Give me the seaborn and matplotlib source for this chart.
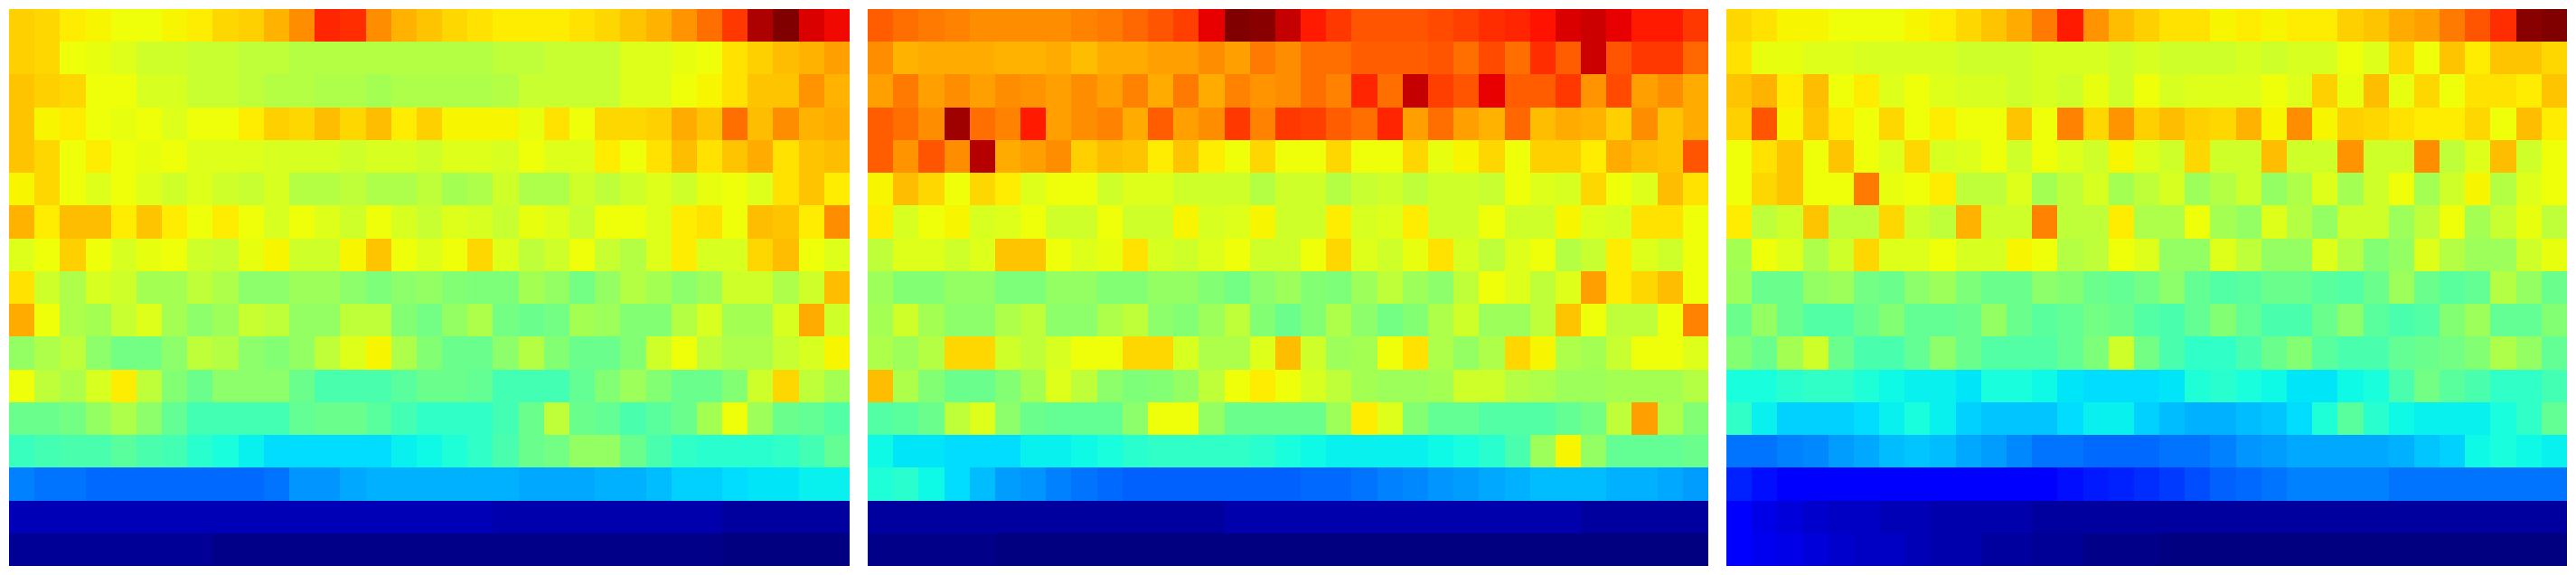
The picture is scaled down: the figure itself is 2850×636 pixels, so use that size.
import numpy as np
import matplotlib
matplotlib.use('Agg')
import matplotlib.pyplot as plt
import seaborn as sns

# values, in percent of the colour range
panel_a = [
    [69,68,66,65,64,64,65,66,68,69,72,76,87,86,76,72,70,68,67,66,66,66,67,68,70,72,75,79,85,96,100,92,90],
    [69,68,64,63,62,60,60,59,59,58,58,57,57,57,57,57,57,57,57,58,58,59,59,59,62,62,63,64,67,69,71,72,74],
    [70,69,68,64,64,61,61,59,59,58,57,57,56,56,55,56,56,56,56,57,59,59,59,59,62,62,64,65,67,70,70,75,72],
    [70,65,66,64,63,64,62,64,64,66,69,68,71,68,71,66,69,65,65,65,63,67,64,68,68,69,73,70,79,71,76,72,73],
    [70,68,64,66,64,63,64,62,62,62,61,61,61,60,61,61,60,62,62,61,64,62,62,66,64,67,71,67,70,73,67,70,71],
    [65,68,64,62,64,62,60,62,60,59,61,57,57,58,56,56,58,55,56,60,56,56,60,58,60,62,60,63,64,62,67,70,66],
    [72,66,71,71,66,70,66,64,66,64,61,64,62,60,64,61,59,62,61,59,63,62,59,64,64,62,66,67,64,71,70,66,76],
    [62,64,69,64,61,63,64,60,59,63,65,60,60,65,70,64,62,64,68,62,58,60,64,59,57,62,66,61,61,68,71,64,62],
    [67,60,56,61,60,55,55,58,56,52,52,54,54,52,50,52,53,51,50,50,55,53,49,53,57,55,52,54,60,60,56,60,71],
    [73,64,56,55,59,62,55,52,54,59,58,53,53,58,58,51,49,53,56,49,48,49,55,54,51,51,57,61,55,55,61,73,60],
    [53,56,58,52,49,49,52,58,57,52,51,53,58,62,65,56,51,48,48,52,57,51,48,48,51,60,64,58,56,56,59,61,65],
    [64,58,56,61,66,58,51,48,52,52,52,48,44,44,44,46,48,48,47,43,43,43,47,51,54,51,48,48,51,60,68,58,55],
    [48,48,49,53,56,52,47,43,43,43,43,47,48,48,46,43,41,41,41,43,48,58,48,47,44,46,48,55,64,54,48,47,45],
    [42,43,44,44,46,44,43,40,38,36,34,34,34,34,34,36,37,39,41,44,48,49,53,53,48,44,41,40,40,40,41,43,47],
    [25,24,24,23,23,23,23,23,23,23,24,27,27,29,30,30,30,30,30,30,29,29,29,30,30,31,33,33,34,35,35,36,36],
    [5,5,5,5,5,5,5,5,5,5,5,5,5,5,5,5,5,5,5,4,4,4,4,4,4,4,4,4,3,3,3,3,3],
    [2,2,2,2,2,2,2,2,1,1,1,1,1,1,1,1,1,1,1,1,1,1,1,1,1,1,1,1,0,0,0,0,0],
]

panel_b = [
    [81,79,78,77,76,76,76,76,77,78,80,82,84,91,100,99,94,88,85,82,82,82,83,84,86,87,89,92,93,91,88,88,85],
    [76,72,73,73,73,72,72,73,71,73,73,74,74,76,74,78,76,79,79,81,81,81,82,79,83,79,86,81,93,82,85,85,80],
    [74,78,74,76,74,76,75,74,76,74,77,73,78,73,77,75,76,79,77,87,79,94,84,82,91,81,81,85,75,83,74,76,73],
    [81,79,76,97,79,77,88,74,76,77,73,81,74,76,85,77,85,84,81,79,87,74,79,74,72,80,71,73,72,69,76,70,73],
    [81,75,82,76,95,73,74,76,69,71,70,66,70,66,64,68,64,64,68,64,64,68,63,65,68,64,69,69,66,73,71,70,82],
    [65,71,68,64,68,66,62,64,64,60,62,62,60,60,60,57,60,60,57,59,60,58,60,60,59,64,62,61,68,64,62,71,67],
    [66,61,64,65,61,62,64,60,60,64,60,60,65,61,62,65,60,60,66,61,62,66,60,60,64,60,60,65,62,61,67,67,64],
    [58,62,62,60,62,70,70,64,62,63,67,61,60,62,64,60,60,64,68,62,60,63,67,61,58,62,64,57,59,66,62,60,64],
    [54,51,51,53,53,50,50,53,53,51,51,53,53,51,49,52,54,51,50,54,58,54,52,58,64,62,58,62,74,66,68,71,64],
    [55,60,55,52,52,56,58,52,52,56,58,52,51,54,58,51,48,51,56,52,49,51,56,60,54,54,58,70,64,58,58,64,77],
    [56,54,57,68,68,60,58,61,64,64,68,68,61,56,56,62,71,60,54,55,64,67,56,53,56,68,65,56,55,59,64,64,62],
    [71,56,51,48,48,51,55,62,58,52,50,51,53,58,64,66,64,61,58,55,54,54,55,60,60,57,56,54,54,55,55,55,57],
    [45,46,48,58,62,52,48,47,47,47,52,64,64,53,48,48,48,48,54,66,62,51,47,47,45,45,45,47,49,58,74,56,51],
    [37,35,35,34,34,34,36,36,37,38,40,41,41,41,41,40,38,37,36,36,36,36,37,38,40,44,54,65,53,47,47,47,48],
    [39,40,37,34,31,28,27,25,24,23,22,22,22,22,22,22,22,23,23,24,25,26,27,28,29,30,31,31,31,30,30,29,28],
    [3,3,3,3,3,3,3,3,3,3,3,3,3,3,4,4,4,4,4,4,4,4,4,4,4,4,4,4,3,3,3,3,3],
    [1,1,1,1,1,0,0,0,0,0,0,0,0,0,0,0,0,0,0,0,0,0,0,0,0,0,0,0,0,0,0,0,0],
]

panel_c = [
    [68,67,65,65,64,64,64,65,66,68,70,73,78,88,75,71,69,67,67,65,66,65,66,66,69,70,73,74,78,82,86,99,100],
    [67,63,63,62,62,61,61,61,61,60,60,60,61,61,61,60,61,60,60,60,61,60,61,61,64,62,68,64,70,66,70,70,68],
    [70,72,66,71,64,66,62,64,62,61,61,60,61,60,63,60,64,61,62,62,62,64,62,69,63,71,63,68,64,67,67,66,70],
    [69,82,65,70,66,64,68,64,66,64,64,70,64,77,68,75,69,71,69,68,72,65,76,65,69,68,67,66,66,68,64,71,66],
    [64,67,70,64,70,64,62,68,61,62,64,60,64,62,60,65,62,60,68,60,60,71,60,60,75,60,60,76,58,62,71,60,64],
    [64,68,70,64,64,78,63,64,66,58,58,62,55,58,61,55,58,61,54,57,60,53,56,62,55,60,64,55,60,65,57,62,64],
    [66,58,60,70,58,58,68,60,58,72,60,60,77,58,58,66,56,56,64,55,53,62,57,53,60,60,54,58,64,55,59,63,58],
    [55,64,62,56,60,68,62,62,64,61,61,65,64,57,58,64,62,53,53,62,58,53,53,62,57,51,53,62,57,54,54,60,63],
    [54,48,48,53,54,49,48,52,54,50,48,48,52,51,48,47,49,52,47,45,46,48,48,46,45,48,54,48,46,47,57,53,48],
    [48,53,48,45,45,48,51,47,47,48,53,48,46,47,49,48,45,44,47,51,47,44,44,48,52,46,44,45,51,54,47,47,51],
    [51,48,55,60,48,44,44,47,52,48,45,45,45,47,50,60,49,44,41,41,44,48,51,46,44,44,47,48,49,51,56,53,47],
    [38,38,40,41,41,39,37,36,36,35,38,38,37,35,34,34,34,35,39,40,38,37,35,35,37,38,44,49,46,44,41,41,43],
    [41,36,33,33,33,34,36,38,36,33,32,32,32,34,36,36,33,31,30,30,31,32,34,39,46,40,37,36,36,36,38,41,47],
    [24,24,25,26,28,29,31,32,31,29,28,26,24,24,23,23,23,24,24,25,27,28,29,29,29,29,30,32,33,37,38,37,36],
    [16,14,12,12,12,12,12,12,12,12,12,12,12,14,15,16,17,18,20,22,23,24,25,25,25,25,24,24,24,24,24,24,24],
    [11,9,8,7,6,6,5,5,4,4,4,4,3,3,3,3,3,3,3,3,3,3,3,3,3,3,3,3,3,3,3,3,3],
    [11,10,9,8,7,6,6,5,4,4,3,3,2,2,1,1,1,0,0,0,0,0,0,0,0,0,0,0,0,0,0,0,0],
]

panels = [panel_a, panel_b, panel_c]
FIG_W, FIG_H = 2850, 636
PANEL_X = [10, 960, 1910]
PANEL_Y = 10
PANEL_W = 930
PANEL_H = 616

sns.set_theme(style='white')
fig = plt.figure(figsize=(FIG_W / 100, FIG_H / 100), dpi=100)

for values, x0 in zip(panels, PANEL_X):
    ax = fig.add_axes([x0 / FIG_W, 1 - (PANEL_Y + PANEL_H) / FIG_H, PANEL_W / FIG_W, PANEL_H / FIG_H])
    sns.heatmap(np.array(values), ax=ax, cmap='jet', vmin=0, vmax=100, cbar=False,
                xticklabels=False, yticklabels=False, square=False)
    ax.set_xlabel('')
    ax.set_ylabel('')

fig.savefig('out.png', dpi=100)
plt.close(fig)
